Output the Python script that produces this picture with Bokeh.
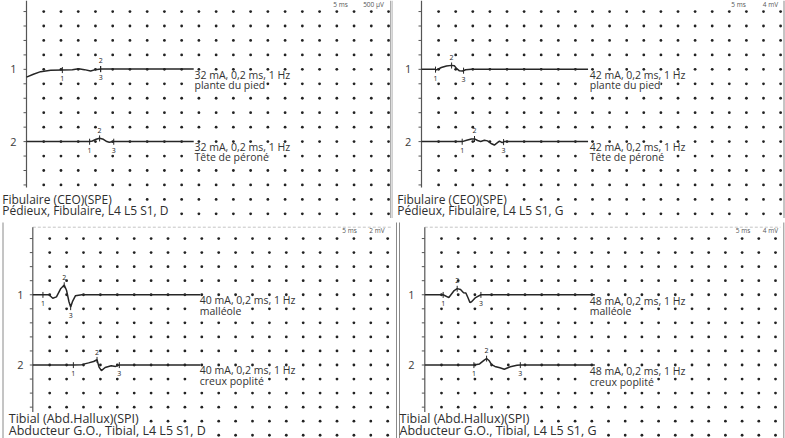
import numpy as np
from bokeh.plotting import figure
from bokeh.models import Range1d, Label
from bokeh.layouts import column, row
from bokeh.embed import file_html
from bokeh.resources import INLINE
from bokeh.core.properties import value

FONT = "Open Sans"
INK = "#262626"
MS_PER_DIV = 5.0

# ------------------------------------------------------------------ data
# Panel A : Fibulaire, right side (500 uV/div)
a_sens = 0.5
a_scale = ["5 ms", "500 µV"]
a_title = ["Fibulaire (CEO)(SPE)", "Pédieux, Fibulaire, L4 L5 S1, D"]
a1_t = [0, 2.0, 4.1, 7.0, 10.4, 13.3, 15.1, 16.8, 18.6, 20.0, 21.5, 25.0, 48.5]
a1_amp = [-0.27, -0.17, -0.08, -0.035, -0.02, -0.01, 0.02, -0.01, -0.055, -0.01, 0.015, 0.01, 0.01]
a1_marks = [10.4, 21.5, 21.5]
a1_stim = ["32 mA, 0,2 ms, 1 Hz", "plante du pied"]
a2_t = [0, 18.3, 19.1, 20.2, 21.2, 22.3, 23.3, 24.0, 25.2, 48.5]
a2_amp = [0, 0, 0.02, 0.08, 0.115, 0.08, 0.0, -0.02, 0, 0]
a2_marks = [18.3, 21.2, 25.3]
a2_stim = ["32 mA, 0,2 ms, 1 Hz", "Tête de péroné"]

# Panel B : Fibulaire, left side (4 mV/div)
b_sens = 4.0
b_scale = ["5 ms", "4 mV"]
b_title = ["Fibulaire (CEO)(SPE)", "Pédieux, Fibulaire, L4 L5 S1, G"]
b1_t = [0, 4.0, 4.4, 5.8, 7.3, 8.8, 9.6, 10.3, 11.1, 12.0, 12.9, 14.6, 48.7]
b1_amp = [0, 0, -0.15, 0.5, 0.95, 1.1, 1.0, 0.2, -0.4, -0.45, -0.1, 0, 0]
b1_marks = [4.1, 8.8, 12.3]
b1_stim = ["42 mA, 0,2 ms, 1 Hz", "plante du pied"]
b2_t = [0, 11.9, 13.2, 14.6, 15.5, 16.4, 17.3, 18.4, 19.3, 20.5, 21.3, 22.2, 22.8, 23.6, 24.2, 48.7]
b2_amp = [0, 0, 0.35, 0.7, 0.75, 0.3, 0.05, 0.35, 0.2, -0.6, -0.95, -0.3, 0.15, -0.3, 0, 0]
b2_marks = [11.9, 15.5, 24.0]
b2_stim = ["42 mA, 0,2 ms, 1 Hz", "Tête de péroné"]

# Panel C : Tibial, right side (2 mV/div)
c_sens = 2.0
c_scale = ["5 ms", "2 mV"]
c_title = ["Tibial (Abd.Hallux)(SPI)", "Abducteur G.O., Tibial,  L4 L5 S1, D"]
c1_t = [0, 3.0, 4.8, 5.9, 7.0, 8.3, 9.3, 10.0, 10.7, 11.2, 11.8, 12.6, 14.5, 49.6]
c1_amp = [0, 0, 0, -0.5, -0.3, 0.9, 1.38, 0.6, -1.0, -1.75, -0.9, -0.15, 0, 0]
c1_marks = [3.0, 9.3, 11.2]
c1_stim = ["40 mA, 0,2 ms, 1 Hz", "malléole"]
c2_t = [0, 12.0, 14.5, 16.5, 18.0, 19.0, 19.6, 20.3, 21.4, 23.2, 24.5, 25.6, 49.6]
c2_amp = [0, 0, 0.05, 0.3, 0.5, 0.75, -0.3, -0.8, -0.35, -0.1, -0.2, 0, 0]
c2_marks = [12.0, 19.0, 25.6]
c2_stim = ["40 mA, 0,2 ms, 1 Hz", "creux poplité"]

# Panel D : Tibial, left side (4 mV/div)
d_sens = 4.0
d_scale = ["5 ms", "4 mV"]
d_title = ["Tibial (Abd.Hallux)(SPI)", "Abducteur G.O., Tibial,  L4 L5 S1, G"]
d1_t = [0, 5.5, 7.2, 8.8, 9.7, 10.7, 11.6, 12.3, 13.0, 13.5, 14.0, 15.2, 16.8, 50.9]
d1_amp = [0, 0, -0.8, 1.2, 1.75, 1.5, 0.6, 0.5, -1.0, -2.2, -2.0, -0.8, 0, 0]
d1_marks = [5.5, 9.7, 16.8]
d1_stim = ["48 mA, 0,2 ms, 1 Hz", "malléole"]
d2_t = [0, 14.7, 16.4, 17.8, 18.5, 19.3, 20.0, 21.0, 22.5, 23.8, 25.6, 27.6, 28.6, 50.9]
d2_amp = [0, 0, 0.3, 1.4, 1.85, 1.2, 0.1, -0.4, -0.8, -1.2, -0.5, -0.1, 0, 0]
d2_marks = [14.7, 18.5, 28.6]
d2_stim = ["48 mA, 0,2 ms, 1 Hz", "creux poplité"]

# ------------------------------------------------------------------ layout (pixels inside each panel)
GEOM_A = dict(w=393, h=218, axis=26.0, div=17.24, row0=-3.4, row=14.45,
              num_x=13, stim_x=194, stim_dy=(5.5, 15.5),
              title_x=1.7, title_y=(198.5, 210.0), title_size="12px", title_free=(6, 9),
              scale_x=(340, 373), scale_y=4,
              axis_top=0, axis_bot=187, topline=None,
              borders=[(390.3, 0, 218), (392.6, 0, 218)])
GEOM_B = dict(w=392, h=218, axis=28.0, div=17.1, row0=-3.4, row=14.45,
              num_x=14.7, stim_x=196.3, stim_dy=(5.5, 15.5),
              title_x=3.7, title_y=(198.5, 210.0), title_size="12px", title_free=(6, 9),
              scale_x=(345, 377), scale_y=4,
              axis_top=0, axis_bot=187, topline=None,
              borders=[(390.5, 0, 218)])
GEOM_C = dict(w=393, h=220, axis=32.3, div=16.9, row0=6.0, row=14.05,
              num_x=20, stim_x=199.3, stim_dy=(5.0, 16.0),
              title_x=8.3, title_y=(200.0, 211.5), title_size="12.5px", title_free=(7, 11),
              scale_x=(349, 376.5), scale_y=12,
              axis_top=8.7, axis_bot=193.5, topline=8.7,
              borders=[(2.5, 4, 220)])
GEOM_D = dict(w=392, h=220, axis=31.3, div=16.7, row0=6.0, row=14.05,
              num_x=18, stim_x=196.3, stim_dy=(6.0, 16.5),
              title_x=6.0, title_y=(200.0, 211.5), title_size="12.5px", title_free=(7, 11),
              scale_x=(349.5, 377), scale_y=12,
              axis_top=8.7, axis_bot=193.5, topline=8.7,
              borders=[(3.0, 4, 220), (6.0, 4, 220), (390.3, 4, 220)])


def build(g, sens, scale, title, traces):
    X = lambda px: (px - g["axis"]) / g["div"] * MS_PER_DIV
    Y = lambda py: (py - g["row0"]) / g["row"]
    p = figure(width=g["w"], height=g["h"],
               x_range=Range1d(X(0), X(g["w"])), y_range=Range1d(Y(g["h"]), Y(0)),
               output_backend="svg", toolbar_location=None, min_border=0,
               x_axis_location=None, y_axis_location=None,
               outline_line_color=None, background_fill_color="white",
               border_fill_color="white")
    p.xgrid.visible = False
    p.ygrid.visible = False

    for bx, y0, y1 in g["borders"]:
        p.segment(x0=[X(bx)], y0=[Y(y0)], x1=[X(bx)], y1=[Y(y1)],
                  line_color="#8a8a8a", line_width=1)
    if g["topline"] is not None:
        p.segment(x0=[0], y0=[Y(g["topline"])], x1=[21.3 * MS_PER_DIV], y1=[Y(g["topline"])],
                  line_color="#c4c4c4", line_width=1, line_dash="3 2")

    # vertical baseline axis with small ticks
    p.segment(x0=[0], y0=[Y(g["axis_top"])], x1=[0], y1=[Y(g["axis_bot"])],
              line_color="#555555", line_width=1.2)
    tr = np.arange(1, 14)
    p.segment(x0=np.full(tr.size, X(g["axis"] - 3)), y0=tr, x1=np.zeros(tr.size), y1=tr,
              line_color="#555555", line_width=1)

    # dot grid (the two footer rows are free only to the right of the titles)
    cc, rr = np.meshgrid(np.arange(1, 22), np.arange(1, 16))
    cc, rr = cc.ravel(), rr.ravel()
    keep = ~(((rr == 14) & (cc < g["title_free"][0])) | ((rr == 15) & (cc < g["title_free"][1])))
    p.scatter(cc[keep] * MS_PER_DIV, rr[keep], size=2.8, color="#222222",
              marker="circle", line_width=0)

    for (t, amp, marks, stim, base) in traces:
        t = np.asarray(t, float)
        y = base - np.asarray(amp, float) / sens
        p.line(t, y, line_color=INK, line_width=1.5)
        for k, m in enumerate(marks, 1):
            yv = float(np.interp(m, t, y))
            p.segment(x0=[m], y0=[yv - 0.2], x1=[m], y1=[yv + 0.22],
                      line_color=INK, line_width=1)
            ly = yv - 0.55 if k == 2 else yv + 0.62
            p.text(x=[m], y=[ly], text=[str(k)], text_font=value(FONT),
                   text_font_size="7px", text_align="center", text_baseline="middle",
                   text_color="#222222")
        p.add_layout(Label(x=X(g["num_x"]), y=base, text=str(int(round(base / 5))),
                           text_font=FONT, text_font_size="11px", text_color="#3a3a3a",
                           text_align="center", text_baseline="middle"))
        # second line first (white box hides the dots under it), first line on top
        p.add_layout(Label(x=X(g["stim_x"]), y=base + g["stim_dy"][1] / g["row"], text=stim[1],
                           text_font=FONT, text_font_size="10.5px", text_color="#333333",
                           text_align="left", text_baseline="middle",
                           background_fill_color="white", background_fill_alpha=1.0))
        p.add_layout(Label(x=X(g["stim_x"]), y=base + g["stim_dy"][0] / g["row"], text=stim[0],
                           text_font=FONT, text_font_size="10.5px", text_color="#333333",
                           text_align="left", text_baseline="middle"))

    for i, s in enumerate(title):
        p.add_layout(Label(x=X(g["title_x"]), y=Y(g["title_y"][i]), text=s,
                           text_font=FONT, text_font_size=g["title_size"], text_color="#2e2e2e",
                           text_align="left", text_baseline="middle"))
    for i, s in enumerate(scale):
        p.add_layout(Label(x=X(g["scale_x"][i]), y=Y(g["scale_y"]), text=s,
                           text_font=FONT, text_font_size="6.5px", text_color="#555555",
                           text_align="center", text_baseline="middle"))
    return p


pA = build(GEOM_A, a_sens, a_scale, a_title,
           [(a1_t, a1_amp, a1_marks, a1_stim, 5), (a2_t, a2_amp, a2_marks, a2_stim, 10)])
pB = build(GEOM_B, b_sens, b_scale, b_title,
           [(b1_t, b1_amp, b1_marks, b1_stim, 5), (b2_t, b2_amp, b2_marks, b2_stim, 10)])
pC = build(GEOM_C, c_sens, c_scale, c_title,
           [(c1_t, c1_amp, c1_marks, c1_stim, 5), (c2_t, c2_amp, c2_marks, c2_stim, 10)])
pD = build(GEOM_D, d_sens, d_scale, d_title,
           [(d1_t, d1_amp, d1_marks, d1_stim, 5), (d2_t, d2_amp, d2_marks, d2_stim, 10)])

layout = column(row(pA, pB), row(pC, pD))
open("out.html", "w").write(file_html(layout, INLINE))
